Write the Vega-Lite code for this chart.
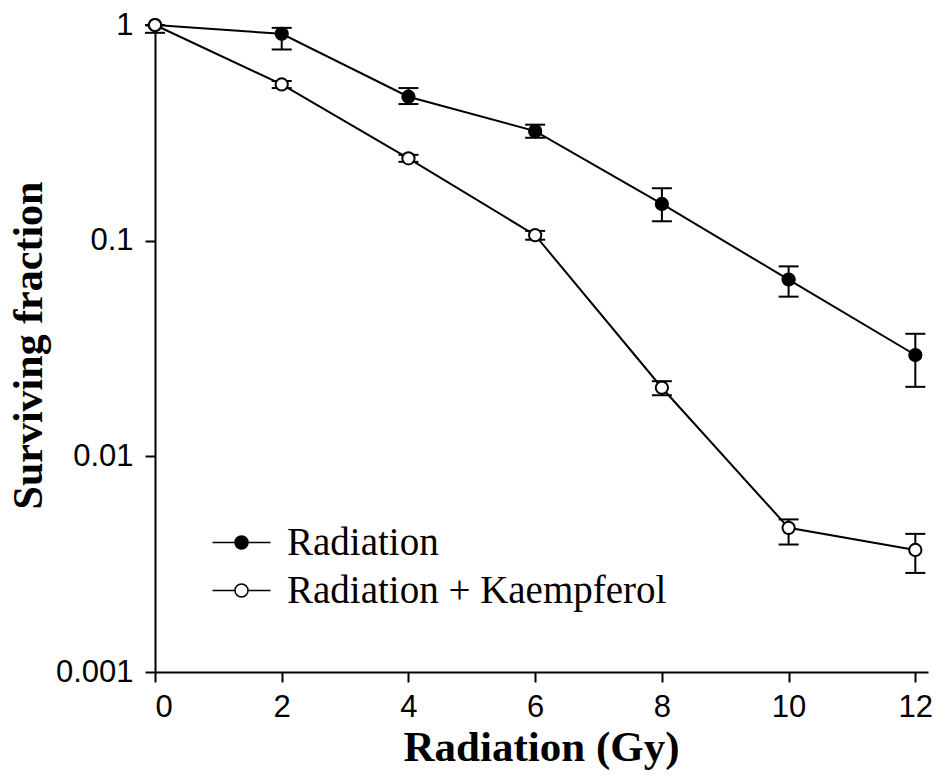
{
  "$schema": "https://vega.github.io/schema/vega-lite/v6.json",
  "width": 773,
  "height": 647,
  "autosize": {"type": "none"},
  "padding": {"left": 155, "top": 25, "right": 17, "bottom": 104},
  "background": "white",
  "config": {
    "view": {"stroke": null},
    "axis": {
      "domainColor": "black",
      "domainWidth": 2,
      "tickColor": "black",
      "tickWidth": 2,
      "tickSize": 10,
      "grid": false,
      "labelFont": "Liberation Sans",
      "labelFontSize": 31,
      "labelColor": "black",
      "titleFont": "Liberation Serif",
      "titleFontWeight": "bold",
      "titleColor": "black"
    }
  },
  "data": {
    "values": [
      {"series": "Radiation", "dose": 0, "sf": 1.0, "lo": 0.92, "hi": 1.0},
      {"series": "Radiation", "dose": 2, "sf": 0.91, "lo": 0.77, "hi": 0.97},
      {"series": "Radiation", "dose": 4, "sf": 0.465, "lo": 0.43, "hi": 0.51},
      {"series": "Radiation", "dose": 6, "sf": 0.322, "lo": 0.30, "hi": 0.345},
      {"series": "Radiation", "dose": 8, "sf": 0.148, "lo": 0.123, "hi": 0.175},
      {"series": "Radiation", "dose": 10, "sf": 0.066, "lo": 0.055, "hi": 0.076},
      {"series": "Radiation", "dose": 12, "sf": 0.0295, "lo": 0.021, "hi": 0.037},
      {"series": "Radiation + Kaempferol", "dose": 0, "sf": 1.0, "lo": 1.0, "hi": 1.0},
      {"series": "Radiation + Kaempferol", "dose": 2, "sf": 0.53, "lo": 0.51, "hi": 0.55},
      {"series": "Radiation + Kaempferol", "dose": 4, "sf": 0.241, "lo": 0.232, "hi": 0.25},
      {"series": "Radiation + Kaempferol", "dose": 6, "sf": 0.106, "lo": 0.101, "hi": 0.111},
      {"series": "Radiation + Kaempferol", "dose": 8, "sf": 0.0208, "lo": 0.0192, "hi": 0.0223},
      {"series": "Radiation + Kaempferol", "dose": 10, "sf": 0.00466, "lo": 0.0039, "hi": 0.0051},
      {"series": "Radiation + Kaempferol", "dose": 12, "sf": 0.00368, "lo": 0.00288, "hi": 0.00437}
    ]
  },
  "encoding": {
    "x": {
      "field": "dose",
      "type": "quantitative",
      "scale": {"domain": [0, 12.2], "nice": false},
      "axis": {
        "values": [0, 2, 4, 6, 8, 10, 12],
        "title": "Radiation (Gy)",
        "titleFontSize": 43,
        "labelPadding": 10,
        "titleX": 386,
        "titleY": 88,
        "titleAlign": "center",
        "titleBaseline": "alphabetic"
      }
    }
  },
  "layer": [
    {
      "mark": {"type": "line", "color": "black", "strokeWidth": 2},
      "encoding": {
        "y": {
          "field": "sf",
          "type": "quantitative",
          "scale": {"type": "log", "domain": [0.001, 1], "nice": false},
          "axis": {
            "values": [0.001, 0.01, 0.1, 1],
            "format": "~g",
            "title": "Surviving fraction",
            "titleFontSize": 42,
            "labelPadding": 12,
            "titleX": -127,
            "titleY": 320,
            "titleAngle": -90,
            "titleAlign": "center",
            "titleBaseline": "middle"
          }
        },
        "detail": {"field": "series"}
      }
    },
    {
      "mark": {"type": "rule", "color": "black", "strokeWidth": 2},
      "encoding": {
        "y": {"field": "lo", "type": "quantitative"},
        "y2": {"field": "hi"}
      }
    },
    {
      "mark": {"type": "tick", "orient": "horizontal", "color": "black", "size": 20, "thickness": 2, "opacity": 1},
      "encoding": {"y": {"field": "lo", "type": "quantitative"}}
    },
    {
      "mark": {"type": "tick", "orient": "horizontal", "color": "black", "size": 20, "thickness": 2, "opacity": 1},
      "encoding": {"y": {"field": "hi", "type": "quantitative"}}
    },
    {
      "mark": {"type": "point", "shape": "circle", "filled": true, "size": 150, "stroke": "black", "strokeWidth": 2, "opacity": 1},
      "encoding": {
        "y": {"field": "sf", "type": "quantitative"},
        "fill": {
          "field": "series",
          "type": "nominal",
          "scale": {"domain": ["Radiation", "Radiation + Kaempferol"], "range": ["black", "white"]},
          "legend": {
            "title": null,
            "orient": "none",
            "legendX": 67,
            "legendY": 498,
            "symbolType": "M-2,0L-0.45,0M0.45,0L2,0M-0.45,0A0.45,0.45 0 1,0 0.45,0A0.45,0.45 0 1,0 -0.45,0Z",
            "symbolSize": 841,
            "symbolStrokeColor": "black",
            "symbolStrokeWidth": 1.5,
            "symbolOpacity": 1,
            "labelFont": "Liberation Serif",
            "labelFontSize": 39,
            "labelColor": "black",
            "labelOffset": 26,
            "rowPadding": 8,
            "padding": 0,
            "labelLimit": 600
          }
        }
      }
    }
  ]
}
